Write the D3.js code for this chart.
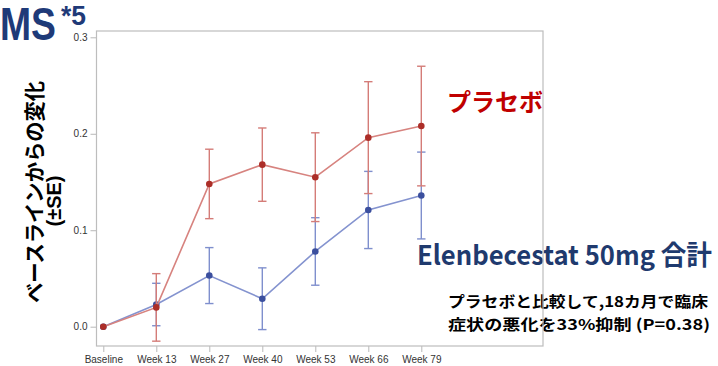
<!DOCTYPE html>
<html>
<head>
<meta charset="utf-8">
<script src="https://cdn.jsdelivr.net/npm/d3@7/dist/d3.min.js"></script>
<style>
  html, body { margin: 0; padding: 0; background: #ffffff; }
  svg { display: block; }
</style>
</head>
<body>
<svg id="chart" width="718" height="366"></svg>
<script>
// Visits and series (change from baseline, ±SE)
const visits = ["Baseline", "Week 13", "Week 27", "Week 40", "Week 53", "Week 66", "Week 79"];
const placeboMean = [0, 0.020, 0.148, 0.168, 0.155, 0.196, 0.208];
const placeboSE   = [0, 0.035, 0.036, 0.038, 0.046, 0.058, 0.062];
const elenMean    = [0, 0.023, 0.053, 0.029, 0.078, 0.121, 0.136];
const elenSE      = [0, 0.022, 0.029, 0.032, 0.035, 0.040, 0.045];
const yTicks = [0.0, 0.1, 0.2, 0.3];

const svg = d3.select("#chart");
const FONT = "'Liberation Sans', Arial, sans-serif";
const JP = "'Noto Sans CJK JP', 'Noto Sans', sans-serif";

const frame = { left: 96.5, right: 543, top: 31, bottom: 346 };
const x = d3.scalePoint().domain(visits).range([103.3, 421.3]);
const y = d3.scaleLinear().domain([0, 0.3]).range([326.7, 37.3]);

// Annotation text (frame line is drawn over it afterwards)
svg.append("text")
  .attr("x", 0).attr("y", 40)
  .attr("font-family", FONT).attr("font-weight", "bold")
  .attr("font-size", 47).attr("fill", "#1f3a78")
  .attr("textLength", 56).attr("lengthAdjust", "spacingAndGlyphs")
  .text("MS");
svg.append("text")
  .attr("x", 61).attr("y", 25)
  .attr("font-family", FONT).attr("font-weight", "bold")
  .attr("font-size", 28).attr("fill", "#1f3a78")
  .attr("textLength", 25).attr("lengthAdjust", "spacingAndGlyphs")
  .text("*5");

svg.append("text")
  .attr("x", 447).attr("y", 111)
  .attr("font-family", JP).attr("font-weight", "bold")
  .attr("font-size", 24).attr("fill", "#c00000")
  .attr("textLength", 96).attr("lengthAdjust", "spacingAndGlyphs")
  .text("プラセボ");

svg.append("text")
  .attr("x", 417).attr("y", 265)
  .attr("font-family", JP).attr("font-weight", "bold")
  .attr("font-size", 27).attr("fill", "#1f3a6e")
  .attr("textLength", 295).attr("lengthAdjust", "spacingAndGlyphs")
  .text("Elenbecestat 50mg 合計");

svg.append("text")
  .attr("x", 448).attr("y", 307)
  .attr("font-family", JP).attr("font-weight", "bold")
  .attr("font-size", 15).attr("fill", "#000")
  .attr("textLength", 260).attr("lengthAdjust", "spacingAndGlyphs")
  .text("プラセボと比較して,18カ月で臨床");
svg.append("text")
  .attr("x", 448).attr("y", 330)
  .attr("font-family", JP).attr("font-weight", "bold")
  .attr("font-size", 15).attr("fill", "#000")
  .attr("textLength", 262).attr("lengthAdjust", "spacingAndGlyphs")
  .text("症状の悪化を33%抑制 (P=0.38)");

// Y-axis title
const yTitle = svg.append("g").attr("transform", "translate(34,192) rotate(-90)");
yTitle.append("text")
  .attr("x", 0).attr("y", 8)
  .attr("text-anchor", "middle")
  .attr("font-family", JP).attr("font-weight", "bold")
  .attr("font-size", 21).attr("fill", "#000")
  .attr("textLength", 222).attr("lengthAdjust", "spacingAndGlyphs")
  .text("ベースラインからの変化");
const yTitle2 = svg.append("g").attr("transform", "translate(54,201) rotate(-90)");
yTitle2.append("text")
  .attr("x", 0).attr("y", 7)
  .attr("text-anchor", "middle")
  .attr("font-family", FONT).attr("font-weight", "bold")
  .attr("font-size", 20).attr("fill", "#000")
  .text("(±SE)");

// Axes
const yAxis = d3.axisLeft(y).tickValues(yTicks).tickFormat(d3.format(".1f")).tickSize(6).tickPadding(3);
const gy = svg.append("g").attr("transform", `translate(${frame.left},0)`).call(yAxis);
const xAxis = d3.axisBottom(x).tickSize(6).tickPadding(4);
const gx = svg.append("g").attr("transform", `translate(0,${frame.bottom})`).call(xAxis);
[gx, gy].forEach(g => {
  g.select(".domain").remove();
  g.selectAll(".tick line").attr("stroke", "#b8b8b8");
  g.selectAll(".tick text").attr("font-family", FONT).attr("font-size", 10).attr("fill", "#333");
});

// Series
const series = [
  { mean: elenMean, se: elenSE, line: "#8493cf", bar: "#7f8fcd", dot: "#3b4f9e" },
  { mean: placeboMean, se: placeboSE, line: "#d7837f", bar: "#d47c78", dot: "#ac2e28" }
];

const lineGen = d3.line().x((d, i) => x(visits[i])).y(d => y(d));
const capW = 4.2;

series.forEach(s => {
  const g = svg.append("g");
  // error bars
  s.mean.forEach((m, i) => {
    if (s.se[i] === 0) return;
    const cx = x(visits[i]);
    const lo = y(m - s.se[i]), hi = y(m + s.se[i]);
    const eb = g.append("g").attr("stroke", s.bar).attr("stroke-width", 1.4);
    eb.append("line").attr("x1", cx).attr("x2", cx).attr("y1", lo).attr("y2", hi);
    eb.append("line").attr("x1", cx - capW).attr("x2", cx + capW).attr("y1", lo).attr("y2", lo);
    eb.append("line").attr("x1", cx - capW).attr("x2", cx + capW).attr("y1", hi).attr("y2", hi);
  });
  g.append("path")
    .datum(s.mean)
    .attr("d", lineGen)
    .attr("fill", "none")
    .attr("stroke", s.line)
    .attr("stroke-width", 1.6);
  g.selectAll("circle")
    .data(s.mean)
    .join("circle")
    .attr("cx", (d, i) => x(visits[i]))
    .attr("cy", d => y(d))
    .attr("r", 3.3)
    .attr("fill", s.dot);
});

// Plot frame
svg.append("rect")
  .attr("x", frame.left).attr("y", frame.top)
  .attr("width", frame.right - frame.left)
  .attr("height", frame.bottom - frame.top)
  .attr("fill", "none")
  .attr("stroke", "#bdbdbd")
  .attr("stroke-width", 1.2);
</script>
</body>
</html>
